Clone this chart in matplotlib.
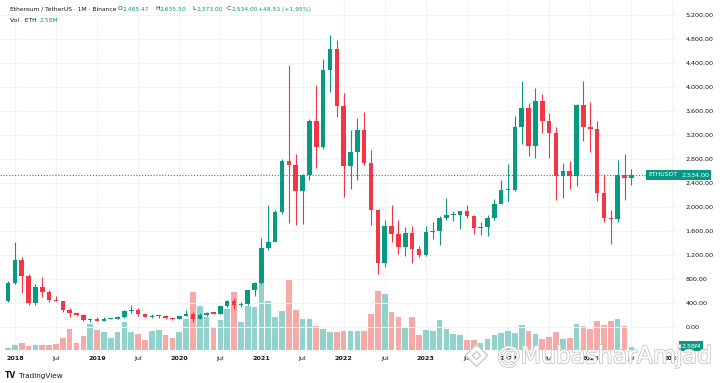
import matplotlib
matplotlib.use("Agg")
import matplotlib.pyplot as plt
import matplotlib.patheffects as pe
from matplotlib.patches import Rectangle
from matplotlib.transforms import blended_transform_factory

# monthly ETH/USDT candles, Dec 2017 .. Jul 2025
opens = [
    430, 733, 1118, 856, 396, 670, 577, 453, 433, 281, 232, 197, 113,
    133, 107, 136, 141, 162, 268, 291, 218, 172, 180, 182, 151,
    129, 179, 217, 133, 206, 231, 225, 346, 434, 360, 386, 616,
    737, 1314, 1417, 1919, 2772, 2707, 2275, 2530, 3434, 3001, 4288, 4631,
    3676, 2688, 2920, 3282, 2728, 1942, 1067, 1679, 1554, 1328, 1572, 1295,
    1196, 1586, 1605, 1821, 1869, 1874, 1934, 1856, 1645, 1671, 1814, 2052,
    2282, 2283, 3340, 3646, 3014, 3762, 3434, 3232, 2513, 2602, 2518, 3705,
    3332, 3300, 2237, 1822, 1793, 2528, 2485.47,
]
highs = [
    770, 1424, 1163, 880, 710, 838, 620, 517, 435, 318, 235, 223, 158,
    160, 166, 145, 187, 288, 364, 318, 238, 224, 198, 195, 152,
    184, 288, 253, 227, 247, 253, 349, 445, 488, 418, 623, 755,
    1476, 2041, 1944, 2800, 4372, 2891, 2551, 3467, 4028, 4460, 4868, 4778,
    3900, 3283, 3479, 3580, 2955, 1974, 1785, 2030, 1788, 1665, 1680, 1352,
    1680, 1743, 1857, 2142, 1928, 1930, 2029, 1873, 1754, 1865, 2134, 2445,
    2717, 3523, 4093, 3730, 3977, 3887, 3563, 3340, 2727, 2768, 3720, 4107,
    3744, 3437, 2550, 1957, 2788, 2880, 2635.50,
]
lows = [
    410, 716, 560, 365, 365, 500, 415, 426, 250, 167, 187, 100, 81,
    102, 102, 126, 140, 157, 231, 188, 163, 152, 150, 138, 116,
    127, 180, 86, 130, 176, 216, 222, 335, 308, 334, 374, 522,
    714, 1282, 1433, 1890, 1737, 1700, 1718, 2451, 2652, 2971, 3913, 3503,
    2159, 2300, 2450, 2695, 1700, 881, 1000, 1422, 1220, 1190, 1073, 1160,
    1190, 1461, 1368, 1785, 1762, 1626, 1825, 1550, 1531, 1521, 1780, 2116,
    2100, 2268, 3056, 2852, 2818, 3240, 2810, 2111, 2150, 2300, 2357, 3099,
    2920, 2100, 1754, 1385, 1752, 2111, 2373.00,
]
closes = [
    733, 1118, 856, 396, 670, 577, 453, 433, 281, 232, 197, 113, 133,
    107, 136, 141, 162, 268, 291, 218, 172, 180, 182, 151, 129,
    179, 217, 133, 206, 231, 225, 346, 434, 360, 386, 616, 737,
    1314, 1417, 1919, 2772, 2707, 2275, 2530, 3434, 3001, 4288, 4631, 3676,
    2688, 2920, 3282, 2728, 1942, 1067, 1679, 1554, 1328, 1572, 1295, 1196,
    1586, 1605, 1821, 1869, 1874, 1934, 1856, 1645, 1671, 1814, 2052, 2282,
    2283, 3340, 3646, 3014, 3762, 3434, 3232, 2513, 2602, 2518, 3705, 3332,
    3300, 2237, 1822, 1793, 2528, 2485, 2534.00,
]
# volume, millions of ETH
volumes = [
    1.6, 4.8, 6.4, 4.1, 4.8, 4.8, 4.5, 5.4, 11.1, 20.2, 6.9, 13.6, 24.7,
    19.0, 16.8, 11.1, 17.4, 26.3, 16.8, 14.9, 9.2, 18.3, 19.0, 14.0, 11.4,
    17.4, 29.2, 54.8, 41.8, 31.1, 21.9, 28.5, 39.2, 55.1, 26.3, 41.8, 41.1,
    63.5, 46.3, 31.6, 37.1, 67.5, 37.7, 29.2, 29.2, 23.1, 20.0, 17.4, 17.1,
    18.3, 18.3, 18.3, 18.0, 33.9, 56.1, 52.9, 35.8, 31.1, 22.1, 31.6, 14.0,
    19.0, 18.0, 28.5, 20.0, 14.9, 14.0, 9.5, 9.5, 6.9, 10.7, 14.5, 15.9,
    17.8, 16.2, 23.8, 18.0, 15.5, 10.5, 12.1, 16.8, 10.2, 11.7, 24.7, 22.8,
    20.2, 27.3, 24.0, 27.3, 29.7, 22.5, 2.58,
]

time_ticks = list(range(1, 98, 6))
time_labels = ["2018", "Jul", "2019", "Jul", "2020", "Jul", "2021", "Jul", "2022",
               "Jul", "2023", "Jul", "2024", "Jul", "2025", "Jul", "2026"]
price_ticks = list(range(0, 5201, 400))

UP, DOWN = "#089981", "#f23645"
VUP, VDOWN = "#92d2cc", "#f7a9a7"
TXT = "#131722"

W, H = 720, 383
fig = plt.figure(figsize=(W / 100, H / 100), dpi=100)
fig.patch.set_facecolor("white")
rect = [0, (H - 350) / H, 677 / W, 350 / H]

xs = list(range(len(opens)))
xlim = (-8 / 6.85, (677 - 8) / 6.85)

# volume pane underneath
axv = fig.add_axes(rect)
axv.set_xlim(*xlim)
axv.set_ylim(0, 350 * 0.95)
vcol = [VUP if c >= o else VDOWN for o, c in zip(opens, closes)]
axv.bar(xs, volumes, width=0.82, color=vcol, zorder=2)
for t in time_ticks:
    axv.axvline(t, color="#f0f3fa", lw=0.8, zorder=0)
axv.axis("off")

# price pane on top
ax = fig.add_axes(rect, sharex=axv)
ax.set_facecolor("none")
ax.set_ylim(-383, 5450)
for p in price_ticks:
    ax.axhline(p, color="#f0f3fa", lw=0.8, zorder=0)

ccol = [UP if c >= o else DOWN for o, c in zip(opens, closes)]
ax.vlines(xs, lows, highs, colors=ccol, lw=0.8, zorder=3)
bottoms = [min(o, c) for o, c in zip(opens, closes)]
heights = [max(abs(c - o), 18) for o, c in zip(opens, closes)]
ax.bar(xs, heights, bottom=bottoms, width=0.66, color=ccol, zorder=4)

last = closes[-1]
ax.axhline(last, color=UP, lw=0.8, ls=(0, (1, 1.6)), zorder=2)

for s in ax.spines.values():
    s.set_visible(False)
ax.yaxis.tick_right()
ax.set_yticks(price_ticks)
ax.set_yticklabels([f"{p:,.2f}" for p in price_ticks])
ax.tick_params(axis="y", length=0, pad=6, labelsize=4.6, labelcolor=TXT)
ax.set_xticks(time_ticks)
ax.set_xticklabels(time_labels)
ax.tick_params(axis="x", length=0, pad=4, labelsize=4.6, labelcolor=TXT)
for lab in ax.get_xticklabels():
    if lab.get_text() != "Jul":
        lab.set_fontweight("bold")

# last price tags
tr = blended_transform_factory(ax.transAxes, ax.transData)
ax.text(0.957, last, "ETHUSDT", transform=tr, fontsize=4.4, color="white",
        va="center", ha="left", clip_on=False, zorder=6,
        bbox=dict(boxstyle="square,pad=0.35", fc=UP, ec="none"))
ax.text(1.006, last, f"{last:,.2f}", transform=tr, fontsize=4.6, color="white",
        va="center", ha="left", clip_on=False, zorder=6,
        bbox=dict(boxstyle="square,pad=0.35", fc=UP, ec="none"))
trv = blended_transform_factory(axv.transAxes, axv.transData)
axv.text(1.006, volumes[-1] + 1, f"{volumes[-1]:.2f}M", transform=trv, fontsize=4.6,
         color="white", va="center", ha="left", clip_on=False, zorder=6,
         bbox=dict(boxstyle="square,pad=0.35", fc=UP, ec="none"))

# hide the part of the time scale under the price scale
fig.patches.append(Rectangle((677 / W, 0.02), 1 - 677 / W, 33 / H - 0.03,
                             transform=fig.transFigure, fc="white", ec="none", zorder=5))

# legend lines at the top
def ftext(x, y, s, color=TXT, **kw):
    fig.text(x / W, 1 - y / H, s, color=color, fontsize=4.3, va="center", ha="left", **kw)

ftext(10, 9, "Ethereum / TetherUS · 1M · Binance")
parts = [(118, "O", "2,485.47"), (155, "H", "2,635.50"), (192, "L", "2,373.00"), (227, "C", "2,534.00")]
for x, k, v in parts:
    ftext(x, 9, k)
    ftext(x + 4.5, 9, v, color=UP)
ftext(258, 9, "+48.53 (+1.95%)", color=UP)
ftext(10, 20, "Vol · ETH")
ftext(40, 20, "2.58M", color=UP)

# footer
fig.text(5 / W, 1 - 376 / H, "TV", fontsize=5.5, fontweight="bold", color=TXT, va="center")
fig.text(19 / W, 1 - 376 / H, "TradingView", fontsize=5.2, color=TXT, va="center")

# watermark
wm = fig.text(497 / W, 1 - 356 / H, "@MubasharAmjad", fontsize=17, color="white",
              va="center", ha="left", zorder=10)
wm.set_path_effects([pe.withStroke(linewidth=1.3, foreground="#c9c9c9")])
fig.add_artist(plt.Line2D([476 / W], [1 - 355 / H], marker="D", markersize=11,
                          mfc="white", mec="#c9c9c9", mew=1.0, transform=fig.transFigure,
                          zorder=10))
fig.add_artist(plt.Line2D([476 / W], [1 - 355 / H], marker="D", markersize=4,
                          mfc="white", mec="#c9c9c9", mew=1.0, transform=fig.transFigure,
                          zorder=10))

fig.savefig("out.png", dpi=100)
